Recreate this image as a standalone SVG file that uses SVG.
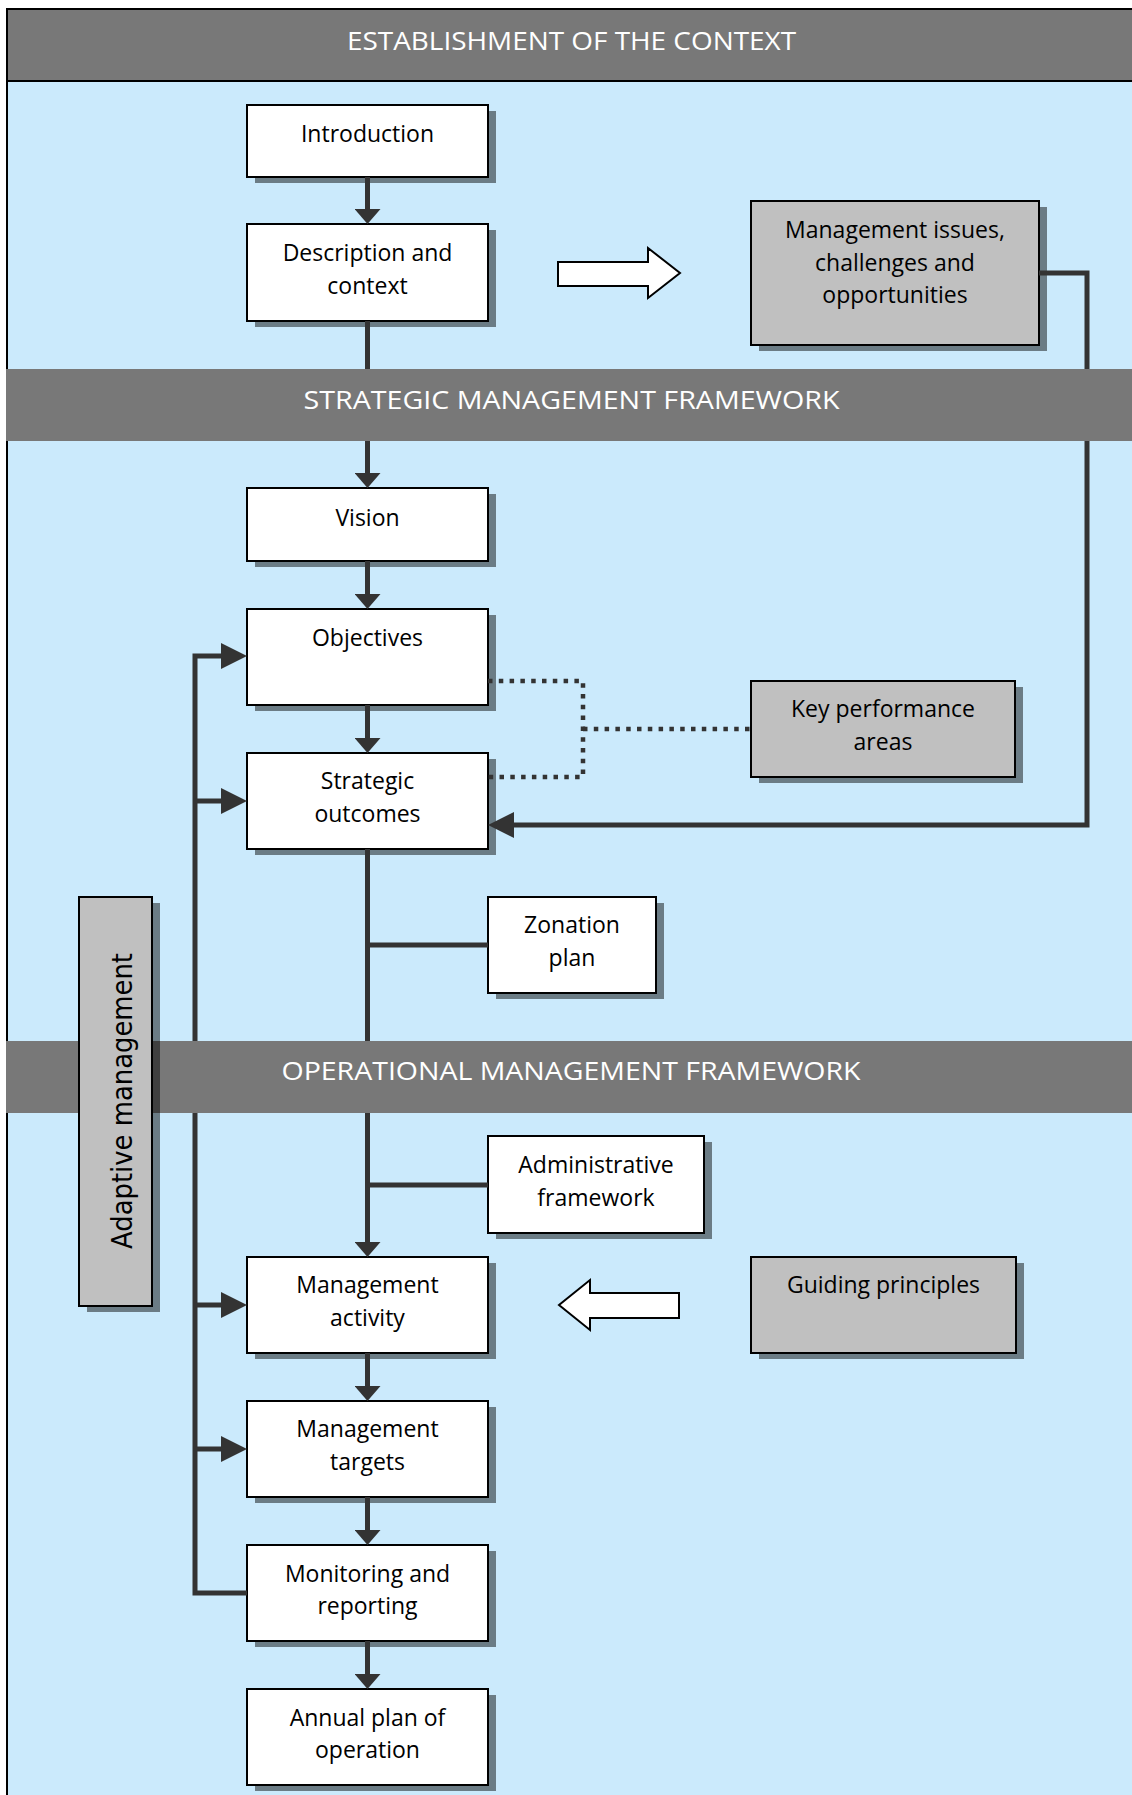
<svg xmlns="http://www.w3.org/2000/svg" width="1132" height="1795" viewBox="0 0 1132 1795">
<style>
.bg{fill:#cbeafc}
.band{fill:#787878}
.bandtxt{font-family:"Open Sans","Noto Sans",sans-serif;font-size:26px;fill:#fff;text-anchor:middle}
.box{fill:#fff;stroke:#000;stroke-width:2}
.gbox{fill:#c0c0c0;stroke:#000;stroke-width:2}
.shadow{fill:#000;fill-opacity:0.47}
.lbl{font-family:"Open Sans","Noto Sans",sans-serif;font-size:23px;fill:#000;text-anchor:middle}
.conn{stroke:#333;stroke-width:5;fill:none;stroke-linejoin:miter}
.dot{stroke:#333;stroke-width:4.5;stroke-dasharray:4.5 6.3;fill:none}
.hollow{fill:#fff;stroke:#000;stroke-width:2}
</style>
<defs>
<marker id="av" markerUnits="userSpaceOnUse" markerWidth="15" markerHeight="26" refX="0" refY="13" orient="auto">
<path d="M0,0 L15,13 L0,26 Z" fill="#333"/>
</marker>
<marker id="ah" markerUnits="userSpaceOnUse" markerWidth="26" markerHeight="26" refX="0" refY="13" orient="auto">
<path d="M0,0 L26,13 L0,26 Z" fill="#333"/>
</marker>
</defs>

<rect class="bg" x="7" y="81" width="1130" height="1720"/>
<line x1="7" y1="9" x2="7" y2="1795" stroke="#000" stroke-width="2"/>

<g id="introduction">
<rect class="shadow" x="255" y="111" width="241" height="72"/>
<rect class="box" x="247" y="105" width="241" height="72"/>
<text class="lbl" x="367.5" y="142">Introduction</text>
</g>
<g id="description">
<rect class="shadow" x="255" y="230" width="241" height="97"/>
<rect class="box" x="247" y="224" width="241" height="97"/>
<text class="lbl" x="367.5" y="261">Description and</text>
<text class="lbl" x="367.5" y="293.5">context</text>
</g>
<g id="management-issues">
<rect class="shadow" x="759" y="207" width="288" height="144"/>
<rect class="gbox" x="751" y="201" width="288" height="144"/>
<text class="lbl" x="895" y="238">Management issues,</text>
<text class="lbl" x="895" y="270.5">challenges and</text>
<text class="lbl" x="895" y="303">opportunities</text>
</g>
<g id="hollow-arrow-right">
<path class="hollow" d="M558,262 H648 V248 L680,273 L648,298 V286 H558 Z"/>
</g>
<g id="vision">
<rect class="shadow" x="255" y="494" width="241" height="73"/>
<rect class="box" x="247" y="488" width="241" height="73"/>
<text class="lbl" x="367.5" y="525.5">Vision</text>
</g>
<g id="objectives">
<rect class="shadow" x="255" y="615" width="241" height="96"/>
<rect class="box" x="247" y="609" width="241" height="96"/>
<text class="lbl" x="367.5" y="645.5">Objectives</text>
</g>
<g id="strategic-outcomes">
<rect class="shadow" x="255" y="759" width="241" height="96"/>
<rect class="box" x="247" y="753" width="241" height="96"/>
<text class="lbl" x="367.5" y="789">Strategic</text>
<text class="lbl" x="367.5" y="821.5">outcomes</text>
</g>
<g id="key-performance-areas">
<rect class="shadow" x="759" y="687" width="264" height="96"/>
<rect class="gbox" x="751" y="681" width="264" height="96"/>
<text class="lbl" x="883" y="717">Key performance</text>
<text class="lbl" x="883" y="749.5">areas</text>
</g>
<g id="zonation-plan">
<rect class="shadow" x="496" y="903" width="168" height="96"/>
<rect class="box" x="488" y="897" width="168" height="96"/>
<text class="lbl" x="572" y="933">Zonation</text>
<text class="lbl" x="572" y="965.5">plan</text>
</g>
<g id="administrative-framework">
<rect class="shadow" x="496" y="1142" width="216" height="97"/>
<rect class="box" x="488" y="1136" width="216" height="97"/>
<text class="lbl" x="596" y="1173">Administrative</text>
<text class="lbl" x="596" y="1205.5">framework</text>
</g>
<g id="management-activity">
<rect class="shadow" x="255" y="1263" width="241" height="96"/>
<rect class="box" x="247" y="1257" width="241" height="96"/>
<text class="lbl" x="367.5" y="1293">Management</text>
<text class="lbl" x="367.5" y="1325.5">activity</text>
</g>
<g id="guiding-principles">
<rect class="shadow" x="759" y="1263" width="265" height="96"/>
<rect class="gbox" x="751" y="1257" width="265" height="96"/>
<text class="lbl" x="883.5" y="1293">Guiding principles</text>
</g>
<g id="hollow-arrow-left">
<path class="hollow" d="M679,1293 H590 V1280 L559,1305 L590,1330 V1318 H679 Z"/>
</g>
<g id="management-targets">
<rect class="shadow" x="255" y="1407" width="241" height="96"/>
<rect class="box" x="247" y="1401" width="241" height="96"/>
<text class="lbl" x="367.5" y="1437">Management</text>
<text class="lbl" x="367.5" y="1469.5">targets</text>
</g>
<g id="monitoring-reporting">
<rect class="shadow" x="255" y="1551" width="241" height="96"/>
<rect class="box" x="247" y="1545" width="241" height="96"/>
<text class="lbl" x="367.5" y="1581.5">Monitoring and</text>
<text class="lbl" x="367.5" y="1614">reporting</text>
</g>
<g id="annual-plan">
<rect class="shadow" x="255" y="1695" width="241" height="96"/>
<rect class="box" x="247" y="1689" width="241" height="96"/>
<text class="lbl" x="367.5" y="1725.5">Annual plan of</text>
<text class="lbl" x="367.5" y="1758">operation</text>
</g>

<g id="connectors">
<path class="conn" d="M367.5,177 V209" marker-end="url(#av)"/>
<path class="conn" d="M367.5,321 V473" marker-end="url(#av)"/>
<path class="conn" d="M367.5,561 V594" marker-end="url(#av)"/>
<path class="conn" d="M367.5,705 V738" marker-end="url(#av)"/>
<path class="conn" d="M367.5,849 V1242" marker-end="url(#av)"/>
<path class="conn" d="M367.5,945 H488"/>
<path class="conn" d="M367.5,1185 H488"/>
<path class="conn" d="M367.5,1353 V1386" marker-end="url(#av)"/>
<path class="conn" d="M367.5,1497 V1530" marker-end="url(#av)"/>
<path class="conn" d="M367.5,1641 V1674" marker-end="url(#av)"/>
<path class="conn" d="M247,1593 H195 V656 H221" marker-end="url(#ah)"/>
<path class="conn" d="M195,801 H221" marker-end="url(#ah)"/>
<path class="conn" d="M195,1305 H221" marker-end="url(#ah)"/>
<path class="conn" d="M195,1449 H221" marker-end="url(#ah)"/>
<path class="conn" d="M1039,273 H1087 V825 H514" marker-end="url(#ah)"/>
<path class="dot" d="M488,681 H583 V777 H488"/>
<path class="dot" d="M583,729 H751"/>
</g>

<rect class="band" x="7" y="9" width="1130" height="72" stroke="#000" stroke-width="2"/>
<text class="bandtxt" x="571.5" y="50" textLength="449" lengthAdjust="spacingAndGlyphs">ESTABLISHMENT OF THE CONTEXT</text>
<rect class="band" x="6" y="369" width="1130" height="72"/>
<text class="bandtxt" x="571.5" y="408.5" textLength="536" lengthAdjust="spacingAndGlyphs">STRATEGIC MANAGEMENT FRAMEWORK</text>
<rect class="band" x="6" y="1041" width="1130" height="72"/>
<text class="bandtxt" x="571" y="1080" textLength="579" lengthAdjust="spacingAndGlyphs">OPERATIONAL MANAGEMENT FRAMEWORK</text>

<g id="adaptive-management">
<rect class="shadow" x="87" y="903" width="73" height="409"/>
<rect class="gbox" x="79" y="897" width="73" height="409"/>
<text transform="translate(131.5,1101) rotate(-90)" x="0" y="0" style="font-family:'DejaVu Sans','Liberation Sans',sans-serif;font-size:28px;fill:#000;text-anchor:middle" textLength="296" lengthAdjust="spacingAndGlyphs">Adaptive management</text>
</g>
</svg>
